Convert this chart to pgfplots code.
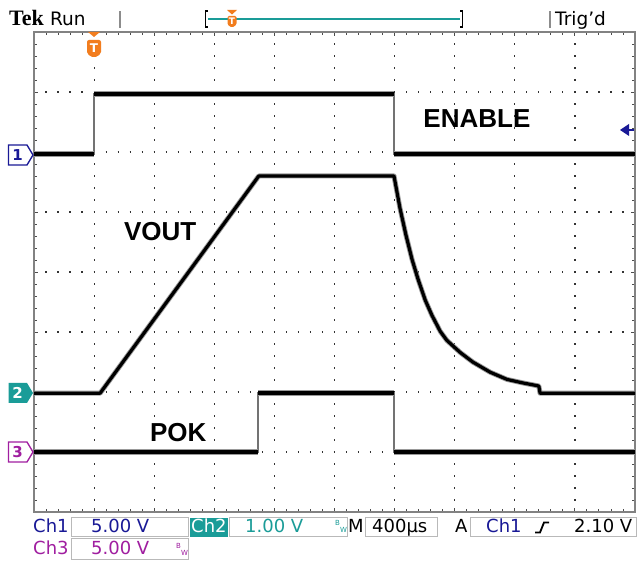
\documentclass[border=0pt]{standalone}
\usepackage{pgfplots}
\pgfplotsset{compat=1.18}
\usepackage{fontspec}
\setmainfont{DejaVu Sans}
\newfontfamily\lib{Liberation Sans}
\newfontfamily\tekfont{Liberation Serif}
\definecolor{chone}{RGB}{25,25,150}
\definecolor{chtwo}{RGB}{26,156,152}
\definecolor{chthree}{RGB}{160,30,160}
\definecolor{tekorange}{RGB}{242,125,30}
\definecolor{framegray}{RGB}{130,130,130}
\definecolor{boxgray}{RGB}{185,185,185}
\begin{document}
\begin{tikzpicture}[x=1pt,y=1pt]
\useasboundingbox (0,0) rectangle (637,561);
\fill[white] (0,0) rectangle (637,561);
% ---------- top bar ----------
\node[anchor=base west, inner sep=0pt, font=\tekfont\bfseries\fontsize{22}{22}\selectfont] at (9,535) {Tek};
\node[anchor=base west, inner sep=0pt, font=\fontsize{18.5}{18.5}\selectfont] at (50,535) {Run};
\draw[black!45, line width=1.2pt] (120,533) -- (120,550);
\draw[black!45, line width=1.2pt] (550,533) -- (550,550);
\node[anchor=base west, inner sep=0pt, font=\fontsize{18.5}{18.5}\selectfont] at (555,535) {Trig'd};
\draw[chtwo, line width=1.5pt] (208,542) -- (460,542);
\draw[black, line width=1.1pt] (208,550) -- (205.5,550) -- (205.5,534) -- (208,534);
\draw[black, line width=1.1pt] (460,550) -- (462.5,550) -- (462.5,534) -- (460,534);
\fill[tekorange] (227,551) -- (237,551) -- (232,546.5) -- cycle;
\fill[tekorange, rounded corners=1.5pt] (227.5,545) -- (236.5,545) -- (236.5,536) -- (232,533.5) -- (227.5,536) -- cycle;
\node[white, font=\bfseries\fontsize{9}{9}\selectfont, inner sep=0pt] at (232,539.5) {T};
% ---------- main graticule ----------
\begin{axis}[at={(34pt,49pt)}, anchor=south west, width=601pt, height=480pt, scale only axis,
  xmin=0, xmax=10, ymin=0, ymax=8,
  xtick={0,...,10}, ytick={0,...,8}, xticklabels={}, yticklabels={},
  minor x tick num=4, minor y tick num=4,
  tick align=inside, major tick length=4pt, minor tick length=3pt,
  every tick/.style={black!70, line width=0.9pt},
  grid=major,
  x grid style={black!80, line width=1.2pt, dash pattern=on 1.2pt off 10.8pt, dash phase=0.6pt},
  y grid style={black!80, line width=1.2pt, dash pattern=on 1.2pt off 10.82pt, dash phase=0.6pt},
  axis line style={framegray, line width=2.5pt},
  clip=false,
  halo/.style={black!40, line width=6pt, line join=round},
  core/.style={black, line width=4pt, line join=round},
  edge/.style={black!55, line width=1.6pt},
]
% Ch1 ENABLE
\addplot[edge] coordinates {(0,5.96)(1.0,5.96)(1.0,6.97)(5.99,6.97)(5.99,5.96)(10,5.96)};
\addplot[halo, unbounded coords=jump] coordinates {(0,5.96)(1.0,5.96)(1.0,nan)(1.0,6.97)(5.99,6.97)(5.99,nan)(5.99,5.96)(10,5.96)};
\addplot[core, unbounded coords=jump] coordinates {(0,5.96)(1.0,5.96)(1.0,nan)(1.0,6.97)(5.99,6.97)(5.99,nan)(5.99,5.96)(10,5.96)};
% Ch2 VOUT
\pgfplotstableread{
x y
0 1.98
1.10 1.98
3.74 5.60
5.99 5.60
6.09 5.06
6.19 4.61
6.29 4.21
6.39 3.88
6.51 3.53
6.62 3.28
6.76 3.01
6.87 2.86
7.09 2.66
7.30 2.50
7.59 2.33
7.87 2.21
8.14 2.15
8.40 2.10
8.42 1.98
10 1.98
}\vout
\addplot[black!40, line width=5pt, line join=round] table[x=x,y=y] {\vout};
\addplot[black, line width=3.2pt, line join=round] table[x=x,y=y] {\vout};
% Ch3 POK
\addplot[edge] coordinates {(0,1.0)(3.73,1.0)(3.73,1.98)(5.99,1.98)(5.99,1.0)(10,1.0)};
\addplot[halo, unbounded coords=jump] coordinates {(0,1.0)(3.73,1.0)(3.73,nan)(3.73,1.98)(5.99,1.98)(5.99,nan)(5.99,1.0)(10,1.0)};
\addplot[core, unbounded coords=jump] coordinates {(0,1.0)(3.73,1.0)(3.73,nan)(3.73,1.98)(5.99,1.98)(5.99,nan)(5.99,1.0)(10,1.0)};
% labels
\node[font=\lib\bfseries\fontsize{26}{26}\selectfont] at (axis cs:7.37,6.55) {ENABLE};
\node[font=\lib\bfseries\fontsize{26}{26}\selectfont] at (axis cs:2.10,4.67) {VOUT};
\node[font=\lib\bfseries\fontsize{26}{26}\selectfont] at (axis cs:2.40,1.33) {POK};
\end{axis}
% trigger T marker at top of graticule
\fill[tekorange] (88,529) -- (100,529) -- (94,524) -- cycle;
\fill[tekorange, rounded corners=2pt] (87,521) -- (101,521) -- (101,507) -- (94,503) -- (87,507) -- cycle;
\node[white, font=\bfseries\fontsize{12}{12}\selectfont, inner sep=0pt] at (94,512.5) {T};
% channel markers
\draw[chone, line width=1.3pt, fill=white] (8.5,416) -- (27,416) -- (33,406) -- (27,396) -- (8.5,396) -- cycle;
\node[chone, font=\bfseries\fontsize{15}{15}\selectfont, inner sep=0pt] at (17.5,406) {1};
\fill[chtwo] (8.5,178) -- (27,178) -- (33,168) -- (27,158) -- (8.5,158) -- cycle;
\node[white, font=\bfseries\fontsize{15}{15}\selectfont, inner sep=0pt] at (17.5,168) {2};
\draw[chthree, line width=1.3pt, fill=white] (8.5,119) -- (27,119) -- (33,109) -- (27,99) -- (8.5,99) -- cycle;
\node[chthree, font=\bfseries\fontsize{15}{15}\selectfont, inner sep=0pt] at (17.5,109) {3};
% trigger level arrow
\fill[chone] (620,431) -- (629,437) -- (629,425) -- cycle;
\draw[chone, line width=1.8pt] (628,431) -- (634,431);
% ---------- status bar ----------
\draw[boxgray, line width=1pt] (71,24) rectangle (188,43);
\fill[chtwo] (190,24) rectangle (228,43);
\draw[boxgray, line width=1pt] (229,24) rectangle (347,43);
\draw[boxgray, line width=1pt] (365,24) rectangle (437,43);
\draw[boxgray, line width=1pt] (470,24) rectangle (636,43);
\draw[boxgray, line width=1pt] (71,1) rectangle (188,22);
\node[anchor=base west, inner sep=0pt, chone, font=\fontsize{18}{18}\selectfont] at (33,28) {Ch1};
\node[anchor=base west, inner sep=0pt, chone, font=\fontsize{18}{18}\selectfont] at (91,28) {5.00 V};
\node[anchor=base west, inner sep=0pt, white, font=\fontsize{18}{18}\selectfont] at (191,28) {Ch2};
\node[anchor=base west, inner sep=0pt, chtwo, font=\fontsize{18}{18}\selectfont] at (245,28) {1.00 V};
\node[anchor=base west, inner sep=0pt, chtwo, font=\fontsize{7}{7}\selectfont] at (335,35) {B};
\node[anchor=base west, inner sep=0pt, chtwo, font=\fontsize{7}{7}\selectfont] at (340,28) {W};
\node[anchor=base west, inner sep=0pt, black, font=\fontsize{18}{18}\selectfont] at (348,28) {M};
\node[anchor=base west, inner sep=0pt, black, font=\fontsize{18}{18}\selectfont] at (372,28) {400µs};
\node[anchor=base west, inner sep=0pt, black, font=\fontsize{18}{18}\selectfont] at (455,28) {A};
\node[anchor=base west, inner sep=0pt, chone, font=\fontsize{18}{18}\selectfont] at (486,28) {Ch1};
\draw[black, line width=1.8pt] (535,28.5) -- (540,28.5) -- (544,38.5) -- (549,38.5);
\node[anchor=base west, inner sep=0pt, black, font=\fontsize{18}{18}\selectfont] at (574,28) {2.10 V};
\node[anchor=base west, inner sep=0pt, chthree, font=\fontsize{18}{18}\selectfont] at (33,6) {Ch3};
\node[anchor=base west, inner sep=0pt, chthree, font=\fontsize{18}{18}\selectfont] at (91,6) {5.00 V};
\node[anchor=base west, inner sep=0pt, chthree, font=\fontsize{7}{7}\selectfont] at (176,12) {B};
\node[anchor=base west, inner sep=0pt, chthree, font=\fontsize{7}{7}\selectfont] at (181,5) {W};
\end{tikzpicture}
\end{document}
